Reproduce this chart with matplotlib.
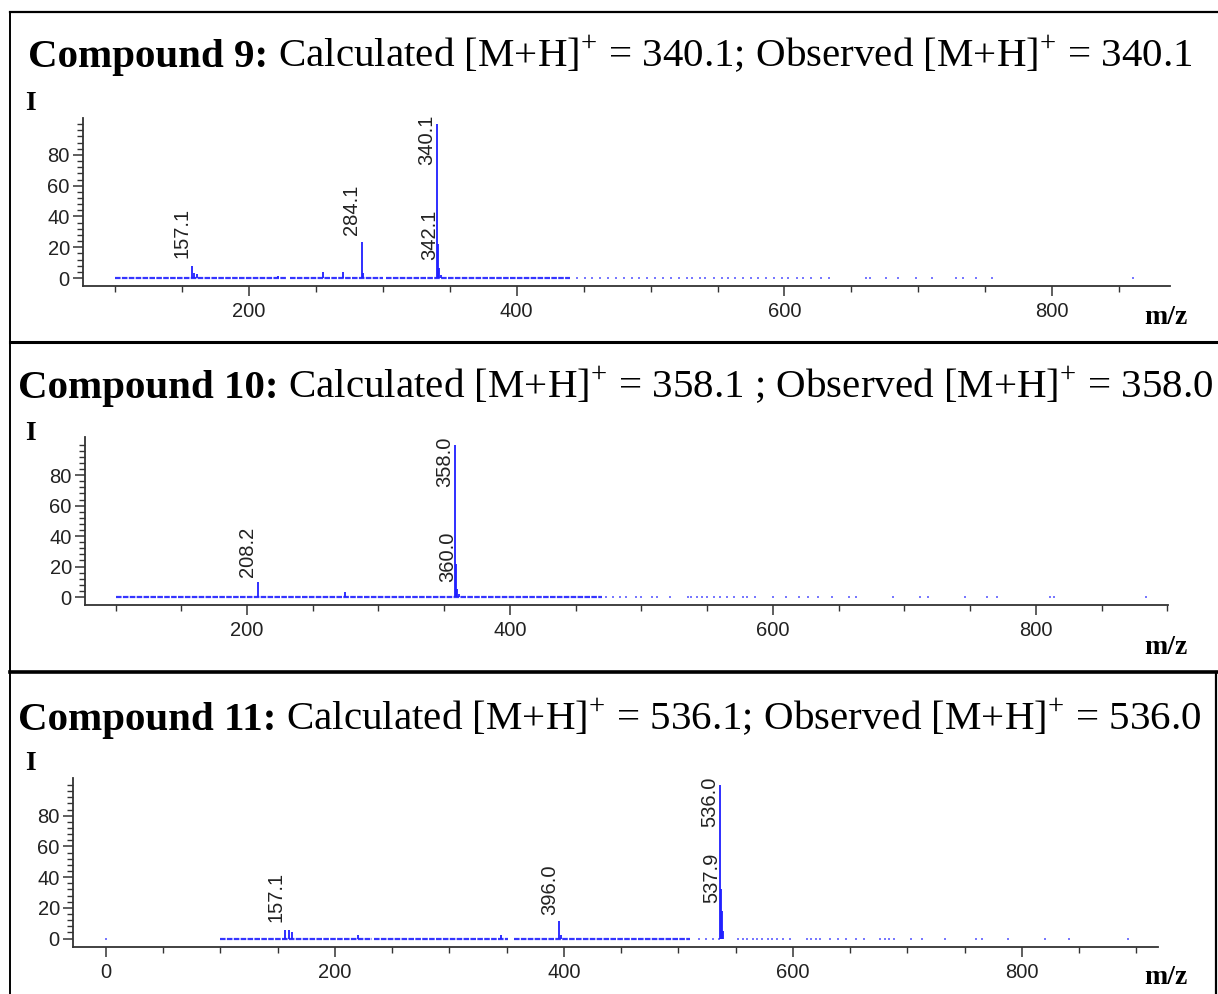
import matplotlib
matplotlib.use('Agg')
import numpy as np
import matplotlib.pyplot as plt
from matplotlib.ticker import FixedLocator, MultipleLocator

# ---- data ----
titles_bold = ["Compound 9:", "Compound 10:", "Compound 11:"]
titles_rest = [" Calculated [M+H]$^{+}$ = 340.1; Observed [M+H]$^{+}$ = 340.1",
               " Calculated [M+H]$^{+}$ = 358.1 ; Observed [M+H]$^{+}$ = 358.0",
               " Calculated [M+H]$^{+}$ = 536.1; Observed [M+H]$^{+}$ = 536.0"]

# compound 9
c9_mz = [157.1, 159.1, 161.1, 222, 255, 270, 284.1, 285.1, 340.1, 341.1, 342.1, 343.1]
c9_int = [8, 3, 2.5, 1.5, 4, 4, 23.4, 3, 100, 22, 6.5, 2]
c9_noise = [(100, 228), (231, 300), (302, 440)]
c9_dots = [445, 451, 456, 462, 468, 474, 480, 486, 491, 497, 503, 509, 515, 521, 527,
           531, 537, 541, 547, 553, 558, 563, 569, 575, 580, 586, 592, 598, 603, 609,
           614, 620, 627, 633, 661, 664, 676, 685, 698, 710, 728, 733, 743, 755, 860]
c9_labels = ["157.1", "284.1", "340.1", "342.1"]
c9_label_y = [13, 28, 73.5, 11.7]

# compound 10
c10_mz = [208.2, 274.5, 358.0, 359.0, 360.0, 361.0]
c10_int = [10, 3, 100, 22, 5, 2]
c10_noise = [(100, 470)]
c10_dots = [473, 478, 484, 488, 496, 500, 508, 512, 522, 535, 538, 542, 546, 550, 555,
            560, 565, 570, 577, 580, 586, 600, 610, 620, 627, 634, 645, 658, 663, 691,
            712, 718, 746, 763, 770, 811, 814, 884]
c10_labels = ["208.2", "358.0", "360.0"]
c10_label_y = [13, 72, 10]

# compound 11
c11_mz = [156.1, 159.6, 162.1, 220, 345, 396.0, 397.0, 536.0, 537.0, 537.9, 538.9]
c11_int = [5.9, 5.9, 4.4, 2, 2, 11.3, 2, 100, 32, 18, 5]
c11_noise = [(100, 232), (234, 351), (356, 510)]
c11_dots = [0, 518, 524, 530, 535, 552, 556, 560, 565, 569, 573, 578, 582, 586, 591,
            597, 612, 616, 620, 624, 632, 639, 646, 655, 662, 676, 680, 684, 688, 703,
            713, 733, 760, 765, 788, 820, 841, 893]
c11_labels = ["157.1", "396.0", "536.0", "537.9"]
c11_label_y = [10.8, 15.2, 73, 22.9]

spectra = [
    (c9_mz, c9_int, c9_noise, c9_dots, c9_labels, c9_label_y),
    (c10_mz, c10_int, c10_noise, c10_dots, c10_labels, c10_label_y),
    (c11_mz, c11_int, c11_noise, c11_dots, c11_labels, c11_label_y),
]

# ---- layout (pixels of the 1218x994 canvas) ----
W, H = 1218, 994
# left, right, top, bottom of each spectrum axes, then x and y limits
boxes = [
    (83, 1170, 118, 286, (76, 888), (-5.2, 104)),
    (85, 1168, 437, 605, (76.8, 900.4), (-5.2, 105)),
    (73, 1158, 778, 947, (-28.8, 918.8), (-5.5, 104.6)),
]
title_pos = [(28, 67), (18, 398), (18, 730)]
I_pos = [(30, 103), (30, 433), (30, 763)]
mz_pos = [(1166, 318), (1166, 647), (1166, 978)]

blue = '#1f1fff'
serif = 'Liberation Serif'
plt.rcParams['font.family'] = 'Liberation Sans'
plt.rcParams['mathtext.fontset'] = 'custom'
plt.rcParams['mathtext.rm'] = serif

fig = plt.figure(figsize=(W / 100, H / 100), dpi=100)

frame = fig.add_axes([0, 0, 1, 1])
frame.set_xlim(0, W)
frame.set_ylim(H, 0)
frame.axis('off')

# panel borders
frame.plot([10, W], [12, 12], color='black', lw=1.6)
frame.plot([9.5, 9.5], [12, H], color='black', lw=1.4)
frame.plot([9.5, W], [342, 342], color='black', lw=2.2)
frame.plot([9.5, W], [672, 672], color='black', lw=2.6)
frame.plot([1216, 1216], [672, H], color='black', lw=1.6)

fig.canvas.draw()
rend = fig.canvas.get_renderer()

for k in range(3):
    mz, inten, noise, dots, labels, label_y = spectra[k]
    l, r, t, b, xl, yl = boxes[k]
    ax = fig.add_axes([l / W, 1 - b / H, (r - l) / W, (b - t) / H])
    ax.patch.set_alpha(0)
    ax.set_xlim(*xl)
    ax.set_ylim(*yl)
    for s in ['top', 'right']:
        ax.spines[s].set_visible(False)
    for s in ['left', 'bottom']:
        ax.spines[s].set_color('#333333')
        ax.spines[s].set_linewidth(1.3)

    ax.xaxis.set_major_locator(MultipleLocator(200))
    ax.xaxis.set_minor_locator(MultipleLocator(50))
    ax.yaxis.set_major_locator(FixedLocator([0, 20, 40, 60, 80]))
    ax.yaxis.set_minor_locator(FixedLocator(np.arange(0, 101, 4)))
    ax.tick_params(which='major', length=7.5, width=1.1, color='#333333',
                   labelsize=14.5, labelcolor='#222222')
    ax.tick_params(which='minor', length=4, width=1.0, color='#333333')
    ax.tick_params(axis='x', which='major', pad=4)
    ax.tick_params(axis='y', which='major', pad=2)

    for a, c in noise:
        ax.plot([a, c], [0, 0], color=blue, lw=1.6, ls=(0, (2.5, 0.6)), alpha=0.9)
    ax.plot(dots, [0] * len(dots), ls='none', marker='s', ms=1.8, mew=0, color=blue,
            alpha=0.6)
    ax.vlines(mz, 0, inten, color=blue, lw=1.3)

    for txt, y in zip(labels, label_y):
        ax.annotate(txt, xy=(float(txt), y), xytext=(-7.2, 0), textcoords='offset points',
                    rotation=90, ha='center', va='bottom', fontsize=14.5, color='#222222')

    # title: bold part then regular part
    tx, ty = title_pos[k]
    t1 = frame.text(tx, ty, titles_bold[k], family=serif, weight='bold', fontsize=29.5,
                    va='baseline', ha='left')
    bb = t1.get_window_extent(renderer=rend)
    x_end = frame.transData.inverted().transform((bb.x1, 0))[0]
    frame.text(x_end, ty, titles_rest[k], family=serif, fontsize=29.5, va='baseline',
               ha='left')

    frame.text(I_pos[k][0], I_pos[k][1], "I", family=serif, weight='bold', fontsize=20,
               va='center', ha='center')
    frame.text(mz_pos[k][0], mz_pos[k][1], "m/z", family=serif, weight='bold', fontsize=20,
               va='center', ha='center')

fig.savefig('out.png', dpi=100)
